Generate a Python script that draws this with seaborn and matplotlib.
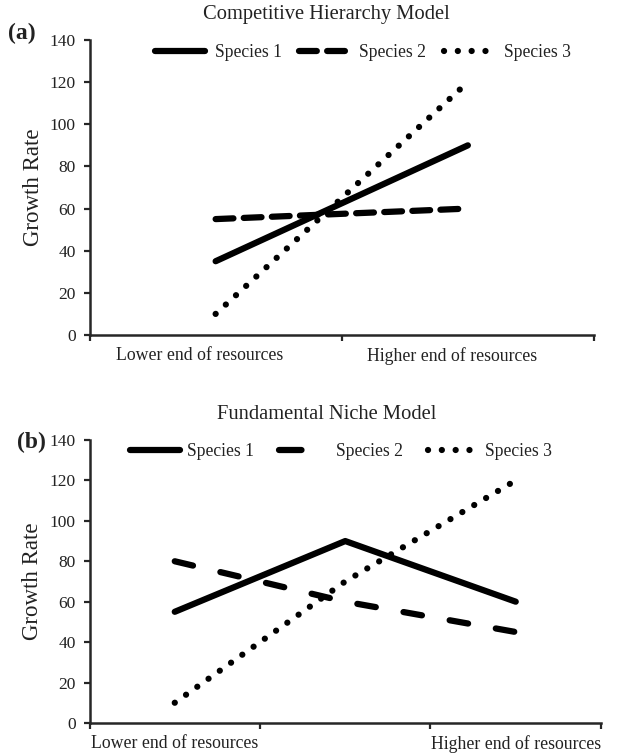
import matplotlib
matplotlib.use("Agg")
import matplotlib.pyplot as plt
import matplotlib.transforms as mtransforms
import numpy as np
import pandas as pd
import seaborn as sns

species = ["Species 1", "Species 2", "Species 3"]

# (a) Competitive Hierarchy Model
cats_a = ["Lower end of resources", "Higher end of resources"]
sp1_a = [35, 90]
sp2_a = [55, 60]
sp3_a = [10, 120]

# (b) Fundamental Niche Model
cats_b = ["Lower end of resources", "", "Higher end of resources"]
sp1_b = [55, 90, 60]
sp2_b = [80, 60, 45]
sp3_b = [10, 70, 120]

yticks = [0, 20, 40, 60, 80, 100, 120, 140]

LW = 4.5

sns.set_style("ticks")
plt.rcParams["font.family"] = ["Liberation Serif", "DejaVu Serif"]
plt.rcParams["lines.solid_capstyle"] = "round"
plt.rcParams["lines.dash_capstyle"] = "round"
plt.rcParams["axes.linewidth"] = 1.8


def long_df(cats, series):
    rows = []
    for name, vals in zip(species, series):
        for c, v in zip(cats, vals):
            rows.append({"resource": c, "rate": v, "species": name})
    return pd.DataFrame(rows)


def panel(ax, cats, series, dashes, title_xy, title, letter_xy, letter,
          leg_anchor, leg_kw, label_shift, leg_dash2=None):
    df = long_df(cats, series)
    pal = {s: "black" for s in species}
    sns.lineplot(data=df, x="resource", y="rate", hue="species", style="species",
                 palette=pal, dashes=dashes, lw=LW, sort=False, ax=ax)
    n = len(cats)
    ax.set_xlim(-0.5, n - 0.5)
    ax.set_ylim(0, 140)
    ax.set_yticks(yticks)
    ax.set_xticks(np.arange(n + 1) - 0.5, labels=[""] * (n + 1))
    ax.set_xticks(np.arange(n), labels=cats, minor=True)
    ax.tick_params(axis="x", which="major", length=4, width=1.6, direction="out")
    ax.tick_params(axis="x", which="minor", length=0, pad=9, labelsize=12.8,
                   labelcolor="#222222")
    ax.tick_params(axis="y", length=4, width=1.6, pad=6, labelsize=12.5,
                   labelcolor="#222222")
    ax.set_xlabel("")
    ax.set_ylabel("Growth Rate", fontsize=16.5, color="#222222")
    ax.yaxis.set_label_coords(-0.09, 0.5)
    sns.despine(ax=ax)
    if label_shift:
        off = mtransforms.ScaledTranslation(label_shift / 100, 0,
                                            ax.figure.dpi_scale_trans)
        for lbl in ax.get_xticklabels(minor=True):
            lbl.set_transform(lbl.get_transform() + off)

    sns.move_legend(ax, "center", bbox_to_anchor=leg_anchor, ncol=3,
                    frameon=False, title=None, fontsize=12.7,
                    borderpad=0, borderaxespad=0, **leg_kw)
    handles = ax.get_legend().legend_handles
    for h in handles:
        h.set_linewidth(LW)
        h.set_color("black")
    if leg_dash2 is not None:
        handles[1].set_dashes(leg_dash2)
    for t in ax.get_legend().get_texts():
        t.set_color("#222222")

    fig = ax.figure
    fig.text(title_xy[0], title_xy[1], title, ha="center", va="center",
             fontsize=14.8, color="#222222")
    fig.text(letter_xy[0], letter_xy[1], letter, ha="center", va="center",
             fontsize=17, fontweight="bold", color="#222222")


fig = plt.figure(figsize=(6.19, 7.56), dpi=100)
ax_a = fig.add_axes([0.1446, 0.5569, 0.8150, 0.3902])
ax_b = fig.add_axes([0.1446, 0.0437, 0.8263, 0.3743])

panel(ax_a, cats_a, [sp1_a, sp2_a, sp3_a],
      {"Species 1": "", "Species 2": (2.85, 1.65), "Species 3": (0.01, 2.2)},
      (0.527, 0.981), "Competitive Hierarchy Model",
      (0.036, 0.956), "(a)",
      (0.542, 0.956),
      dict(handlelength=2.85, handletextpad=0.55, columnspacing=1.0),
      -16)

panel(ax_b, cats_b, [sp1_b, sp2_b, sp3_b],
      {"Species 1": "", "Species 2": (3.0, 4.5), "Species 3": (0.01, 2.2)},
      (0.527, 0.4520), "Fundamental Niche Model",
      (0.050, 0.4153), "(b)",
      (0.492, 0.958),
      dict(handlelength=2.85, handletextpad=0.4, columnspacing=1.4),
      0, leg_dash2=(3.6, 10))

fig.savefig("out.png", dpi=100)
